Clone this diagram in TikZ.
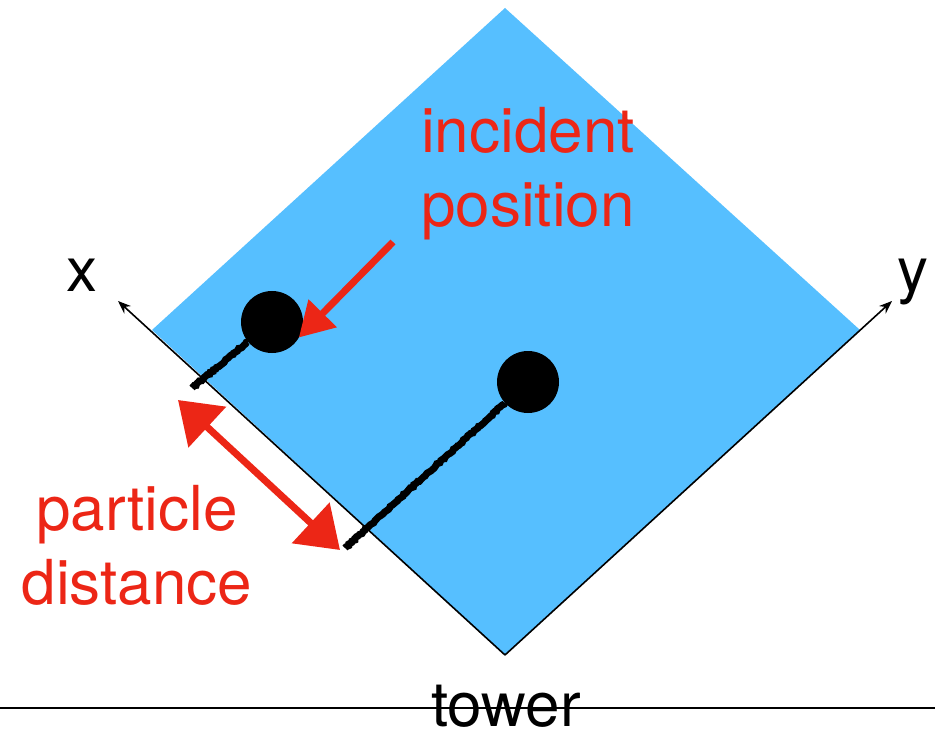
\documentclass[tikz,border=0pt]{standalone}
\usepackage{fontspec}
\setmainfont{TeX Gyre Heros}
\usetikzlibrary{arrows.meta,decorations.pathmorphing}
\definecolor{padblue}{RGB}{86,191,255}
\definecolor{markred}{RGB}{236,38,22}
\tikzset{axisarrow/.style={-{Stealth[length=13pt, width=10pt]}, line width=1.6pt}}
\tikzset{hitdot/.style={circle, fill=black, minimum size=62pt, inner sep=0pt, outer sep=0pt}}
\tikzset{roughline/.style={line width=7pt, decorate, decoration={random steps, segment length=2pt, amplitude=0.8pt}}}
\tikzset{redarrow/.style={markred, line width=7pt, -{Triangle[length=34pt, width=38pt]}}}
\tikzset{redtext/.style={text=markred, align=center, anchor=base}}

\begin{document}
\begin{tikzpicture}[x=1pt, y=-1pt, font=\fontsize{62}{74}\selectfont]
\useasboundingbox (0,0) rectangle (935,730);
\fill[padblue] (505,8) -- (860,330) -- (505,655) -- (152,330) -- cycle;
\coordinate (origin) at (505,655);
\coordinate (xtip) at (118,301);
\coordinate (ytip) at (892,301);
\draw[axisarrow] (origin) -- (xtip);
\draw[axisarrow] (origin) -- (ytip);
\node[anchor=base] (xlabel) at (82,292) {x};
\node[anchor=base] (ylabel) at (913,292) {y};
% particles and their projections on x
\node[hitdot] (hit) at (272,322) {};
\node[hitdot] (core) at (528,382) {};
\coordinate (hitfoot) at (192,388);
\coordinate (corefoot) at (345,548);
\draw[roughline] (hit) -- (hitfoot);
\draw[roughline] (core) -- (corefoot);
% red marks
\coordinate (tail) at (393,242);
\draw[redarrow] (tail) -- (hit.-30);
\coordinate (gapA) at (178,400);
\coordinate (gapB) at (340,550);
\draw[redarrow, {Triangle[length=40pt, width=54pt]}-{Triangle[length=40pt, width=54pt]}] (gapA) -- (gapB);
\node[redtext] (incident) at (528,227) {incident\\position};
\node[redtext] (distance) at (137,604) {particle\\distance};
% tower
\coordinate (floorL) at (0,708);
\coordinate (floorR) at (935,708);
\draw[line width=1.5pt] (floorL) -- (floorR);
\node[anchor=base] (tower) at (506,726) {tower};
\end{tikzpicture}
\end{document}
